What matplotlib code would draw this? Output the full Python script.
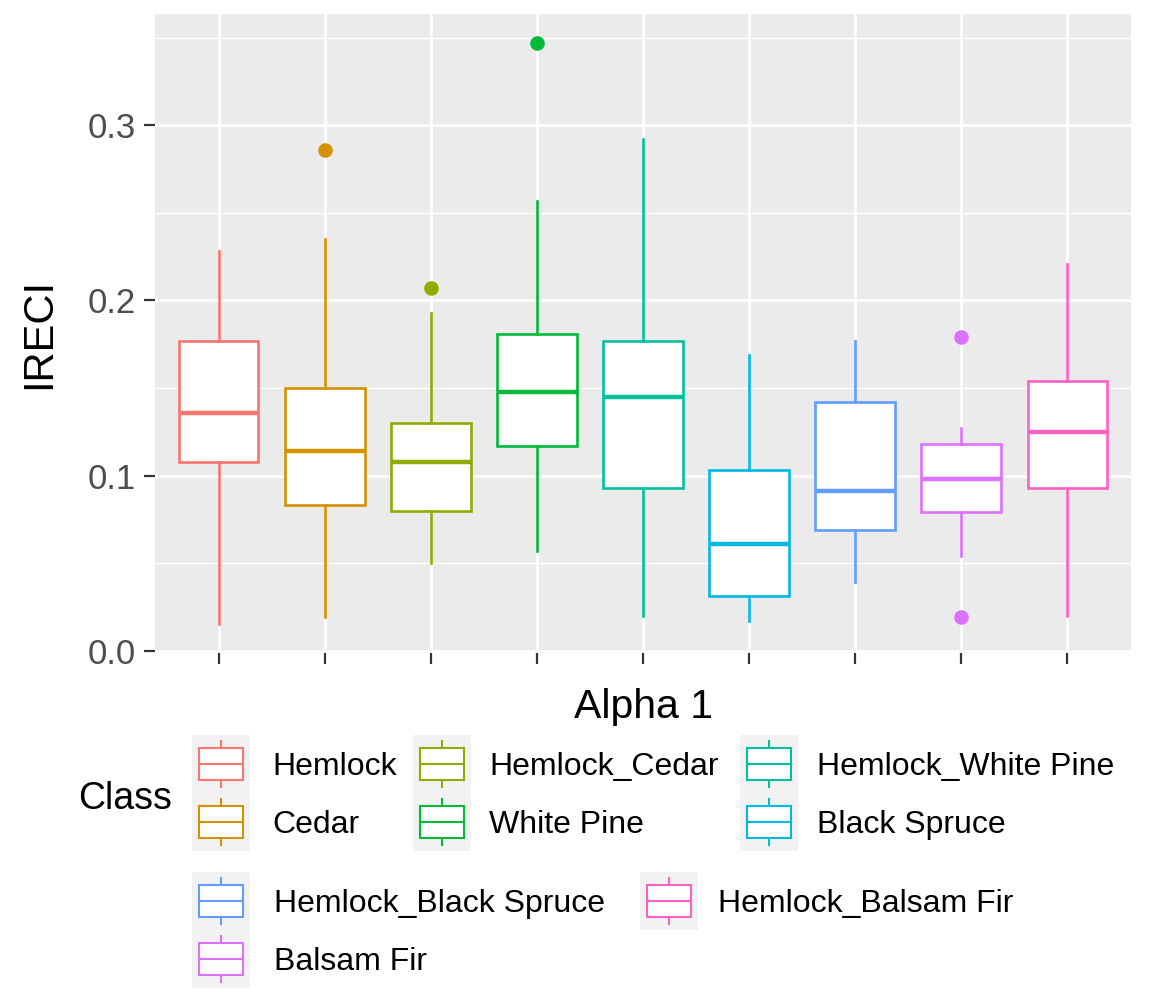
import matplotlib
matplotlib.use("Agg")
import matplotlib.pyplot as plt
from matplotlib.patches import Rectangle
from matplotlib.ticker import FixedLocator

plt.rcParams['font.family'] = ['Liberation Sans', 'DejaVu Sans']

classes = ['Hemlock', 'Cedar', 'Hemlock_Cedar', 'White Pine', 'Hemlock_White Pine',
           'Black Spruce', 'Hemlock_Black Spruce', 'Balsam Fir', 'Hemlock_Balsam Fir']
colors = ['#F8766D', '#D39200', '#93AA00', '#00BA38', '#00C19F',
          '#00B9E3', '#619CFF', '#DB72FB', '#FF61C3']
whislo = [0.015, 0.019, 0.050, 0.057, 0.020, 0.017, 0.039, 0.054, 0.020]
q1 = [0.108, 0.083, 0.080, 0.117, 0.093, 0.031, 0.069, 0.079, 0.093]
med = [0.136, 0.114, 0.108, 0.148, 0.145, 0.061, 0.091, 0.098, 0.125]
q3 = [0.177, 0.150, 0.130, 0.181, 0.177, 0.103, 0.142, 0.118, 0.154]
whishi = [0.228, 0.235, 0.193, 0.257, 0.292, 0.169, 0.177, 0.127, 0.221]
outliers = [[], [0.286], [0.207], [0.347], [], [], [], [0.179, 0.019], []]
y_ticks = [0.0, 0.1, 0.2, 0.3]
y_tick_labels = ['0.0', '0.1', '0.2', '0.3']
y_minor = [0.05, 0.15, 0.25, 0.35]

W, H = 1153, 994
fig = plt.figure(figsize=(W / 100, H / 100), dpi=100)
ax = fig.add_axes([155 / W, 1 - 653 / H, 976 / W, 639 / H])
ax.set_facecolor('#EBEBEB')

stats = []
for i, c in enumerate(classes):
    stats.append(dict(label=c, whislo=whislo[i], q1=q1[i], med=med[i], q3=q3[i],
                      whishi=whishi[i], fliers=outliers[i]))
positions = list(range(1, len(classes) + 1))
res = ax.bxp(stats, positions=positions, widths=0.75, showcaps=False, patch_artist=True,
             boxprops=dict(linewidth=1.9, facecolor='white'),
             whiskerprops=dict(linewidth=1.9),
             medianprops=dict(linewidth=3.2),
             flierprops=dict(marker='o', markersize=10.5, markeredgewidth=0))
for i, col in enumerate(colors):
    res['boxes'][i].set_edgecolor(col)
    res['medians'][i].set_color(col)
    res['whiskers'][2 * i].set_color(col)
    res['whiskers'][2 * i + 1].set_color(col)
    res['fliers'][i].set_markerfacecolor(col)
    res['fliers'][i].set_markeredgecolor(col)

ax.set_xlim(0.4, 9.6)
ax.set_ylim(-0.0013, 0.3636)
ax.set_xticks(positions)
ax.set_xticklabels([''] * len(positions))
ax.set_yticks(y_ticks)
ax.set_yticklabels(y_tick_labels)
ax.yaxis.set_minor_locator(FixedLocator(y_minor))
ax.set_axisbelow(True)
ax.grid(which='major', axis='both', color='white', linewidth=1.9)
ax.grid(which='minor', axis='y', color='white', linewidth=0.95)
for s in ax.spines.values():
    s.set_visible(False)
ax.tick_params(axis='both', which='major', color='#333333', length=8, width=1.6,
               labelcolor='#4D4D4D', labelsize=25, pad=6)
ax.tick_params(axis='y', which='minor', length=0)
ax.set_xlabel('Alpha 1', fontsize=29.5, color='black', labelpad=11)
ax.set_ylabel('IRECI', fontsize=30, color='black', labelpad=20)

# Legend drawn in pixel coordinates on an overlay
lg = fig.add_axes([0, 0, 1, 1])
lg.set_xlim(0, W)
lg.set_ylim(H, 0)
lg.axis('off')
lg.patch.set_alpha(0)

K = 58
layout = [
    # (class index, key left x, key top y, text x)
    (0, 192, 735, 272), (1, 192, 793, 272),
    (2, 413, 735, 489), (3, 413, 793, 489),
    (4, 740, 735, 817), (5, 740, 793, 817),
    (6, 192, 872, 274), (7, 192, 930, 274),
    (8, 640, 872, 718),
]
for idx, kx, ky, tx in layout:
    col = colors[idx]
    lg.add_patch(Rectangle((kx, ky), K, K, facecolor='#F2F2F2', edgecolor='none'))
    bx0, bx1 = kx + 0.125 * K, kx + 0.875 * K
    by0, by1 = ky + 0.22 * K, ky + 0.78 * K
    cx = kx + K / 2
    lg.add_patch(Rectangle((bx0, by0), bx1 - bx0, by1 - by0, facecolor='white',
                           edgecolor=col, linewidth=1.5))
    lg.plot([bx0, bx1], [ky + K / 2] * 2, color=col, lw=1.5)
    lg.plot([cx, cx], [ky + 0.1 * K, by0], color=col, lw=1.5)
    lg.plot([cx, cx], [by1, ky + 0.9 * K], color=col, lw=1.5)
    lg.text(tx, ky + K / 2 + 3, classes[idx], fontsize=23, color='black',
            ha='left', va='center')
lg.text(78, 799, 'Class', fontsize=27, color='black', ha='left', va='center')

fig.savefig('out.png', dpi=100)
